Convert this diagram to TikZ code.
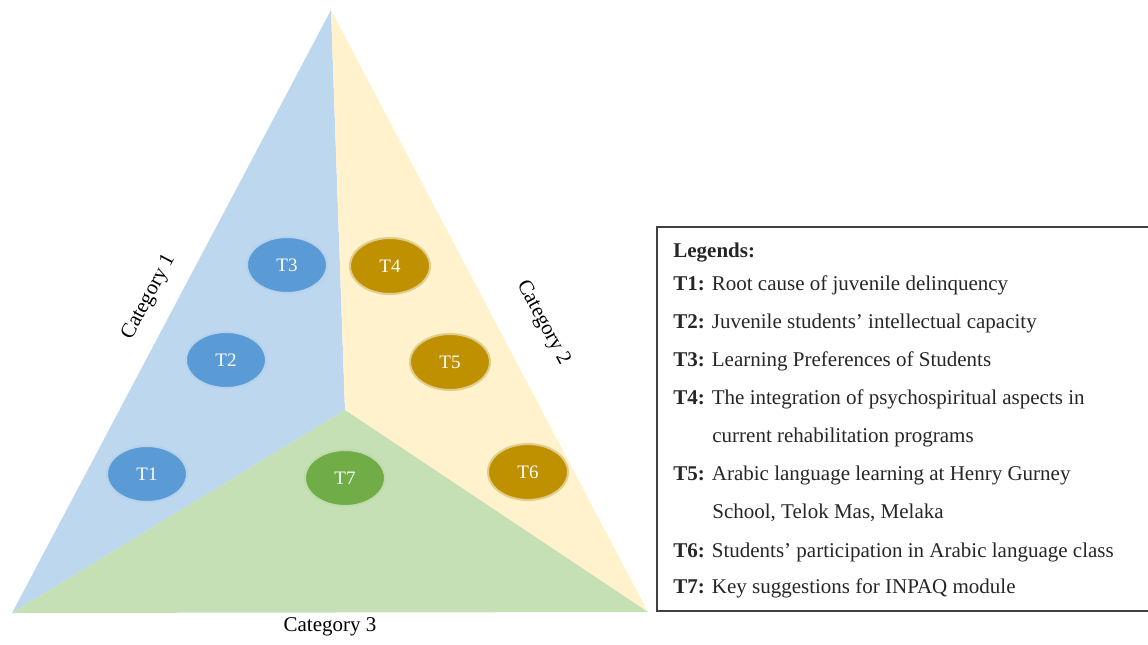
\documentclass[tikz,border=0pt]{standalone}
\usepackage{fontspec}
\setmainfont{Liberation Serif}
\usetikzlibrary{shapes.geometric}

\definecolor{catblue}{HTML}{BDD7EE}
\definecolor{catyellow}{HTML}{FFF2CC}
\definecolor{catgreen}{HTML}{C5E0B4}
\definecolor{dotblue}{HTML}{5B9BD5}
\definecolor{dotgold}{HTML}{BF9000}
\definecolor{dotgreen}{HTML}{70AD47}

\tikzset{
  theme/.style={ellipse, minimum width=40pt, minimum height=28pt, inner sep=0pt,
    text=white, line width=1pt, font=\fontsize{9.5}{11}\selectfont},
  legline/.style={anchor=base west, inner sep=0pt, text=black!85}
}

\begin{document}
\begin{tikzpicture}[x=0.5pt,y=-0.5pt,font=\fontsize{10.5}{12.6}\selectfont]
\useasboundingbox (0,0) rectangle (1148,644);
% triangle corners and centre
\coordinate (apex) at (331,10);
\coordinate (left) at (12,613);
\coordinate (right) at (648,612);
\coordinate (mid) at (345,410);
\fill[catblue] (apex) -- (mid) -- (left) -- cycle;
\fill[catyellow] (apex) -- (right) -- (mid) -- cycle;
\fill[catgreen] (left) -- (mid) -- (right) -- cycle;

% themes
\node[theme, fill=dotblue, draw=dotblue!45] (t1) at (147,474) {T1};
\node[theme, fill=dotblue, draw=dotblue!45] (t2) at (226,360) {T2};
\node[theme, fill=dotblue, draw=dotblue!45] (t3) at (287,265) {T3};
\node[theme, fill=dotgold, draw=dotgold!45] (t4) at (390,266) {T4};
\node[theme, fill=dotgold, draw=dotgold!45] (t5) at (450,362) {T5};
\node[theme, fill=dotgold, draw=dotgold!45] (t6) at (528,472) {T6};
\node[theme, fill=dotgreen, draw=dotgreen!45] (t7) at (345,478) {T7};

% category labels
\node[rotate=62] (cat1) at (149,297) {Category 1};
\node[rotate=-62] (cat2) at (543,323) {Category 2};
\node (cat3) at (330,627) {Category 3};

% legend
\draw[line width=1pt, black!75] (657,227) rectangle (1152,611);
\node[legline] (leg) at (673,257) {\textbf{Legends:}};
\node[legline] (l1) at (673,290) {\textbf{T1:} Root cause of juvenile delinquency};
\node[legline] (l2) at (673,328) {\textbf{T2:} Juvenile students' intellectual capacity};
\node[legline] (l3) at (673,366) {\textbf{T3:} Learning Preferences of Students};
\node[legline] (l4) at (673,404) {\textbf{T4:} The integration of psychospiritual aspects in};
\node[legline] (l4b) at (712,442) {current rehabilitation programs};
\node[legline] (l5) at (673,480) {\textbf{T5:} Arabic language learning at Henry Gurney};
\node[legline] (l5b) at (712,518) {School, Telok Mas, Melaka};
\node[legline] (l6) at (673,557) {\textbf{T6:} Students' participation in Arabic language class};
\node[legline] (l7) at (673,593) {\textbf{T7:} Key suggestions for INPAQ module};
\end{tikzpicture}
\end{document}
